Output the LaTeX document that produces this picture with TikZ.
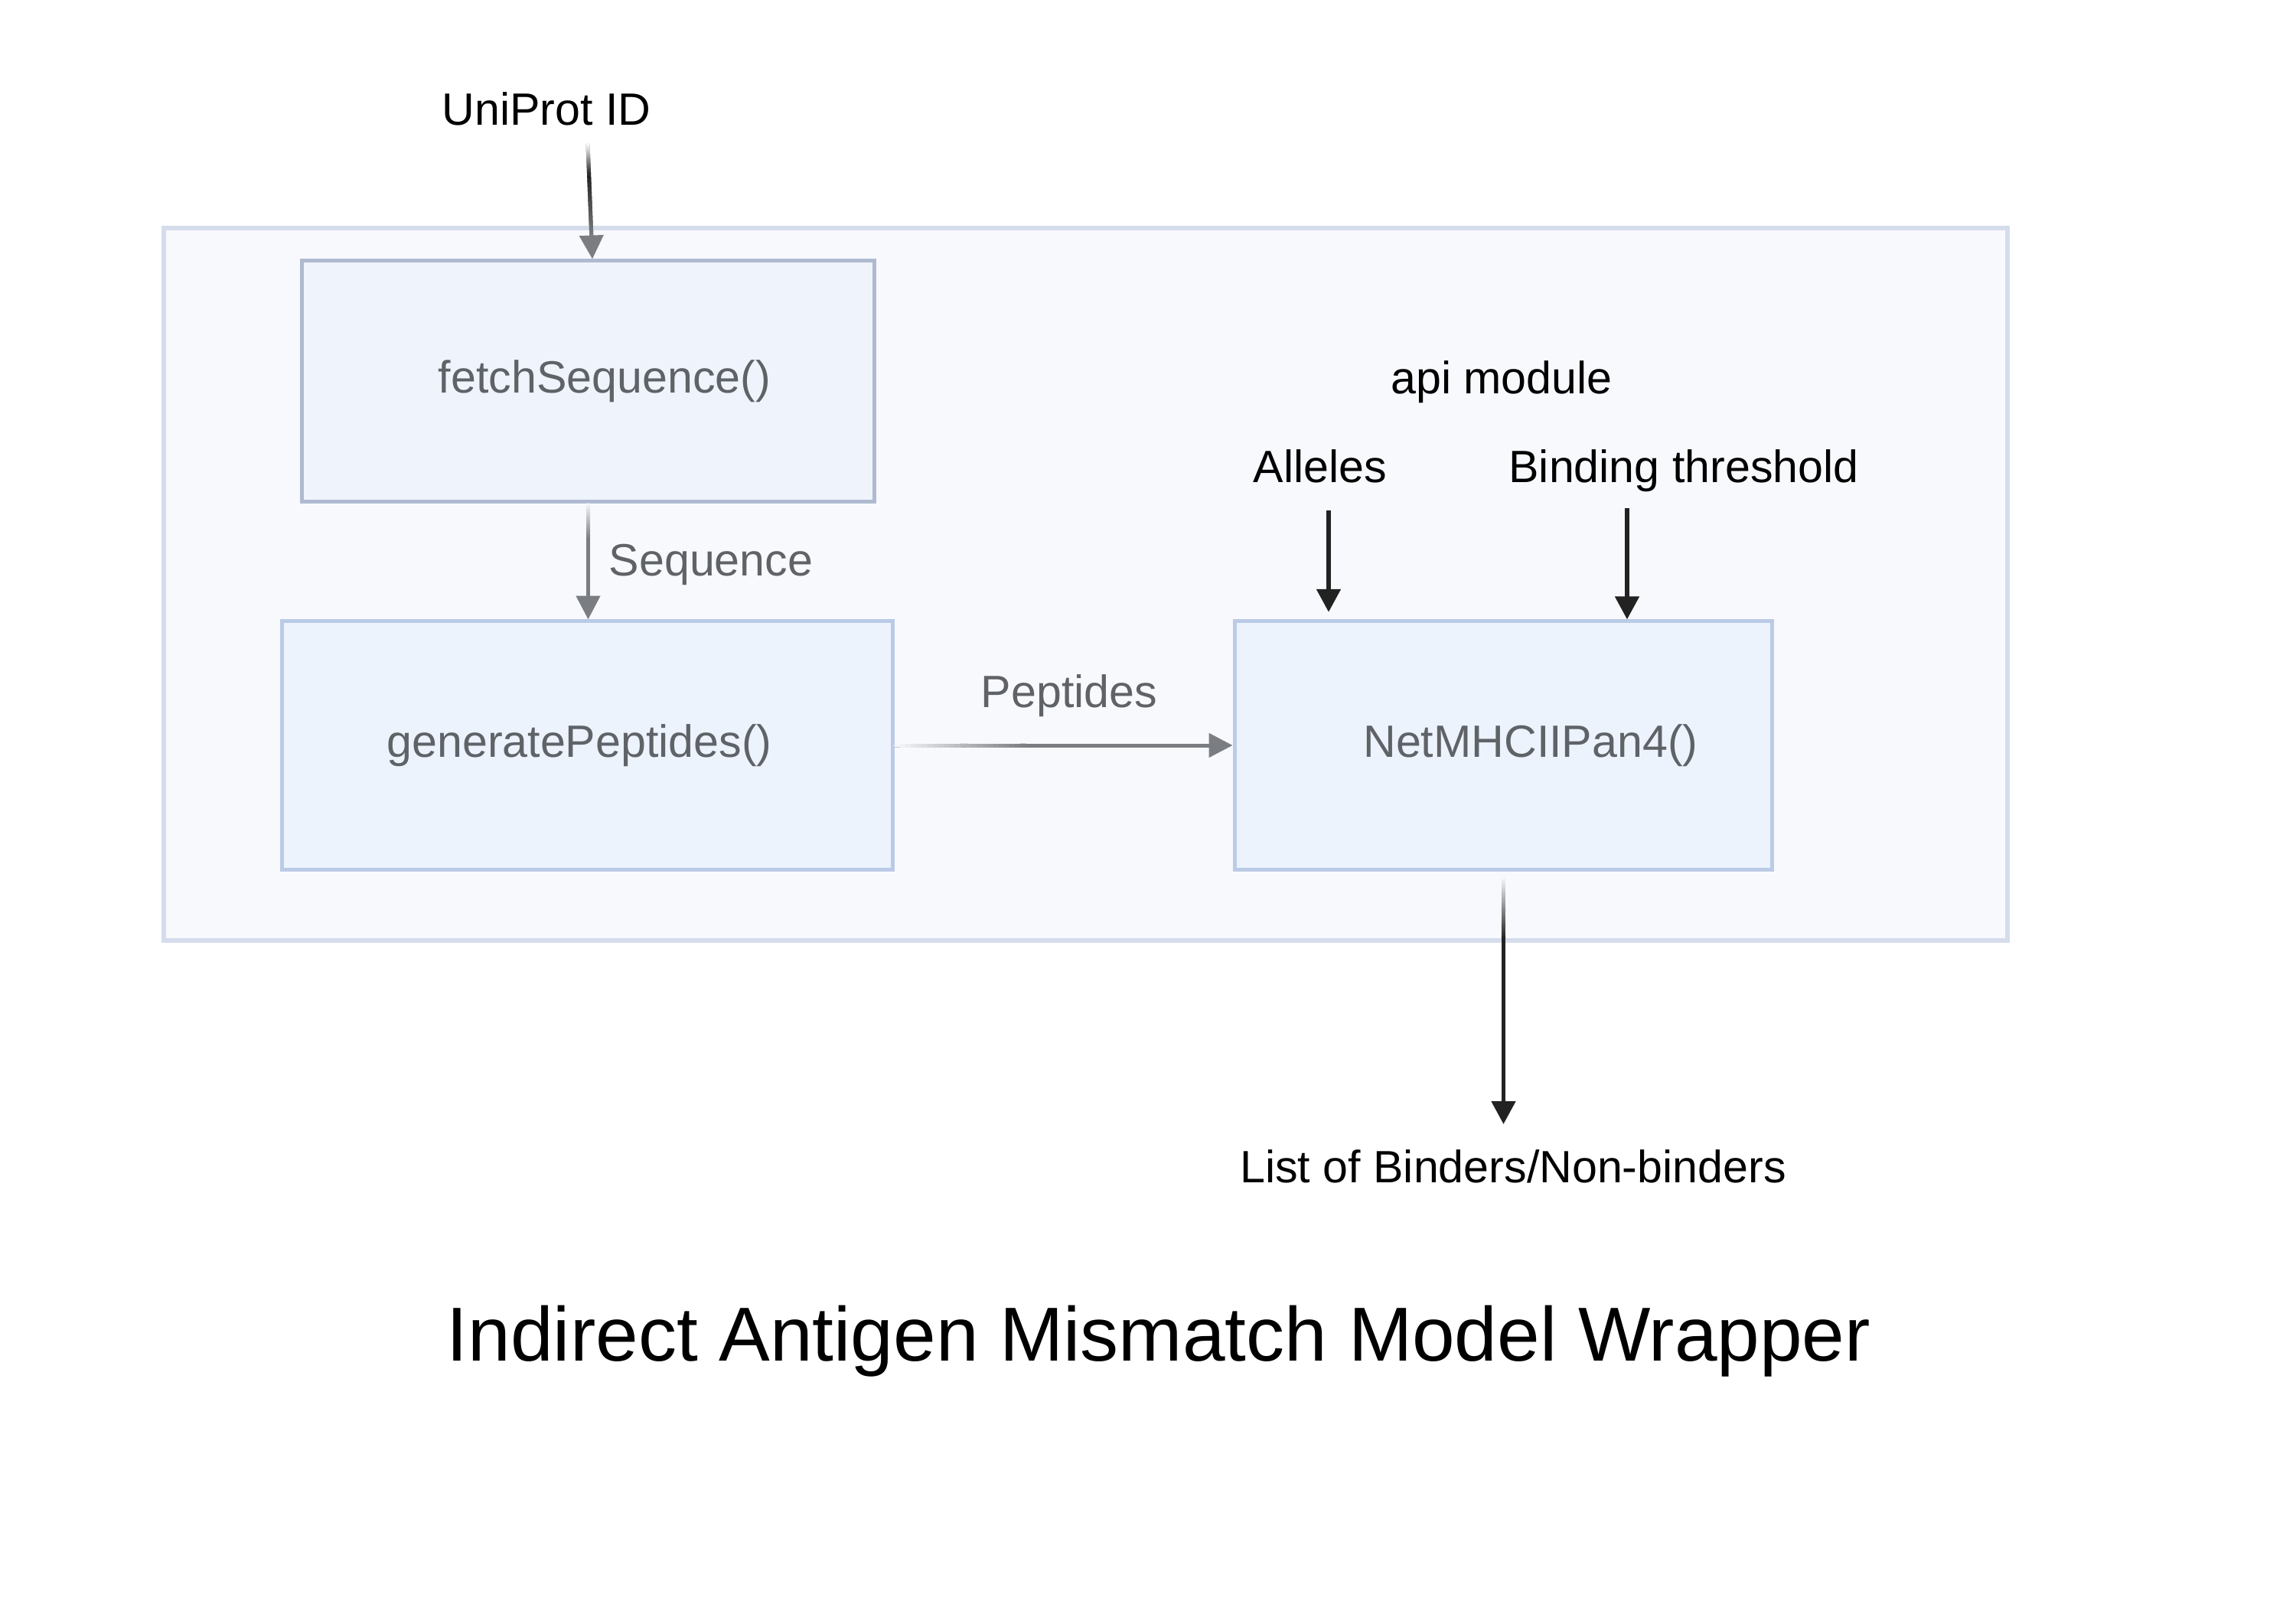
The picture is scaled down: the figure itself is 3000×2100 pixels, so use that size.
\documentclass[tikz,border=0pt]{standalone}
\usepackage{fontspec}
\setmainfont{Liberation Sans}
\usetikzlibrary{arrows.meta,calc}
\definecolor{outerfill}{HTML}{F8F9FD}
\definecolor{outerline}{HTML}{D5DCEC}
\definecolor{fetchfill}{HTML}{EFF3FB}
\definecolor{fetchline}{HTML}{AFBAD0}
\definecolor{boxfill}{HTML}{ECF3FC}
\definecolor{boxline}{HTML}{BBCBE6}
\definecolor{txtgray}{HTML}{5F6368}
\definecolor{arrowgray}{HTML}{7A7D81}
\definecolor{arrowblack}{HTML}{222222}
\newcommand{\gradline}[5]{%
  \foreach \gi in {0,...,23}{%
    \pgfmathsetmacro{\ga}{\gi/24}%
    \pgfmathsetmacro{\gb}{min(1,(\gi+1.4)/24)}%
    \pgfmathsetmacro{\gc}{(\gi+0.5)*100/24}%
    \colorlet{gtmp}{#4!\gc!#3}%
    \draw[line width=#5, draw=gtmp] ($#1!\ga!#2$) -- ($#1!\gb!#2$);
  }}
\tikzset{
  lbl/.style={font=\fontsize{14.2}{17}\selectfont, inner sep=0pt, anchor=base},
  blacktxt/.style={lbl, text=black},
  graytxt/.style={lbl, text=txtgray},
  titletxt/.style={font=\fontsize{24}{29}\selectfont, inner sep=0pt, anchor=base, text=black},
  fnbox/.style={draw=boxline, fill=boxfill, line width=1.2pt, inner sep=0pt,
    font=\fontsize{14.2}{17}\selectfont, text=txtgray, text height=0.95em, text depth=0.2em},
  grayarrow/.style={draw=arrowgray, line width=1.2pt, -{Triangle[length=7.4pt,width=7.4pt]}},
  blackarrow/.style={draw=arrowblack, line width=1.3pt, -{Triangle[length=7.2pt,width=7.4pt]}},
}
\begin{document}
\begin{tikzpicture}[x=0.24pt,y=-0.24pt]
\useasboundingbox (0,0) rectangle (3000,2100);
\fill[white] (0,0) rectangle (3000,2100);
% outer api module frame
\node[draw=outerline, fill=outerfill, line width=1.3pt, minimum width=578.2pt, minimum height=223.4pt, inner sep=0pt] (apibox) at (1418.5,763.5) {};
% function boxes
\node[fnbox, draw=fetchline, fill=fetchfill, minimum width=179.3pt, minimum height=75.4pt] (fetch) at (768.5,498) {\hspace*{10.3pt}fetchSequence()};
\node[fnbox, minimum width=191.3pt, minimum height=77.8pt] (gen) at (767.5,974) {generatePeptides()\hspace*{5pt}};
\node[fnbox, minimum width=168.7pt, minimum height=77.8pt] (net) at (1964.5,974) {\hspace*{17pt}NetMHCIIPan4()};
% texts
\node[blacktxt] (uni) at (714,163) {UniProt ID};
\node[blacktxt] (api) at (1962,514) {api module};
\node[blacktxt] (alleles) at (1725,630) {Alleles};
\node[blacktxt] (bind) at (2200,630) {Binding threshold};
\node[blacktxt] (out) at (1977,1545) {List of Binders/Non-binders};
\node[graytxt, anchor=base west] (seq) at (795,752) {Sequence};
\node[graytxt] (pep) at (1397,924) {Peptides};
\node[titletxt] (title) at (1514,1778) {Indirect Antigen Mismatch Model Wrapper};
% connectors
\coordinate (uniS) at (768,188);
\coordinate (uniT) at ($(fetch.north)+(5.5,0)$);
\draw[grayarrow] (uniS) -- (uniT);
\coordinate (uniM) at ($(uniS)!0.27!(uniT)$);
\coordinate (uniH) at ($(uniS)!0.8!(uniT)$);
\gradline{(uniS)}{(uniM)}{white}{arrowblack}{1.2pt}
\gradline{(uniM)}{(uniH)}{arrowblack}{arrowgray}{1.2pt}

\draw[grayarrow] (fetch.south) -- (fetch.south |- gen.north);
\coordinate (seqG) at ($(fetch.south)+(0,46)$);
\gradline{(fetch.south)}{(seqG)}{outerfill}{arrowgray}{1.2pt}

\draw[grayarrow] (gen.east) -- (net.west);
\coordinate (pepG) at ($(gen.east)+(172,0)$);
\gradline{(gen.east)}{(pepG)}{outerfill}{arrowgray}{1.2pt}

\coordinate (alS) at (1736,667);
\draw[blackarrow, shorten >=2.3pt] (alS) -- (alS |- net.north);
\coordinate (biS) at (2126,664);
\draw[blackarrow] (biS) -- (biS |- net.north);

\coordinate (outT) at (1966,1469);
\coordinate (botS) at ($(net.south)+(0,8)$);
\draw[blackarrow] (botS) -- (botS |- outT);
\coordinate (botG) at ($(net.south)+(0,88)$);
\gradline{(botS)}{(botG)}{outerfill}{arrowblack}{1.3pt}
\end{tikzpicture}
\end{document}
